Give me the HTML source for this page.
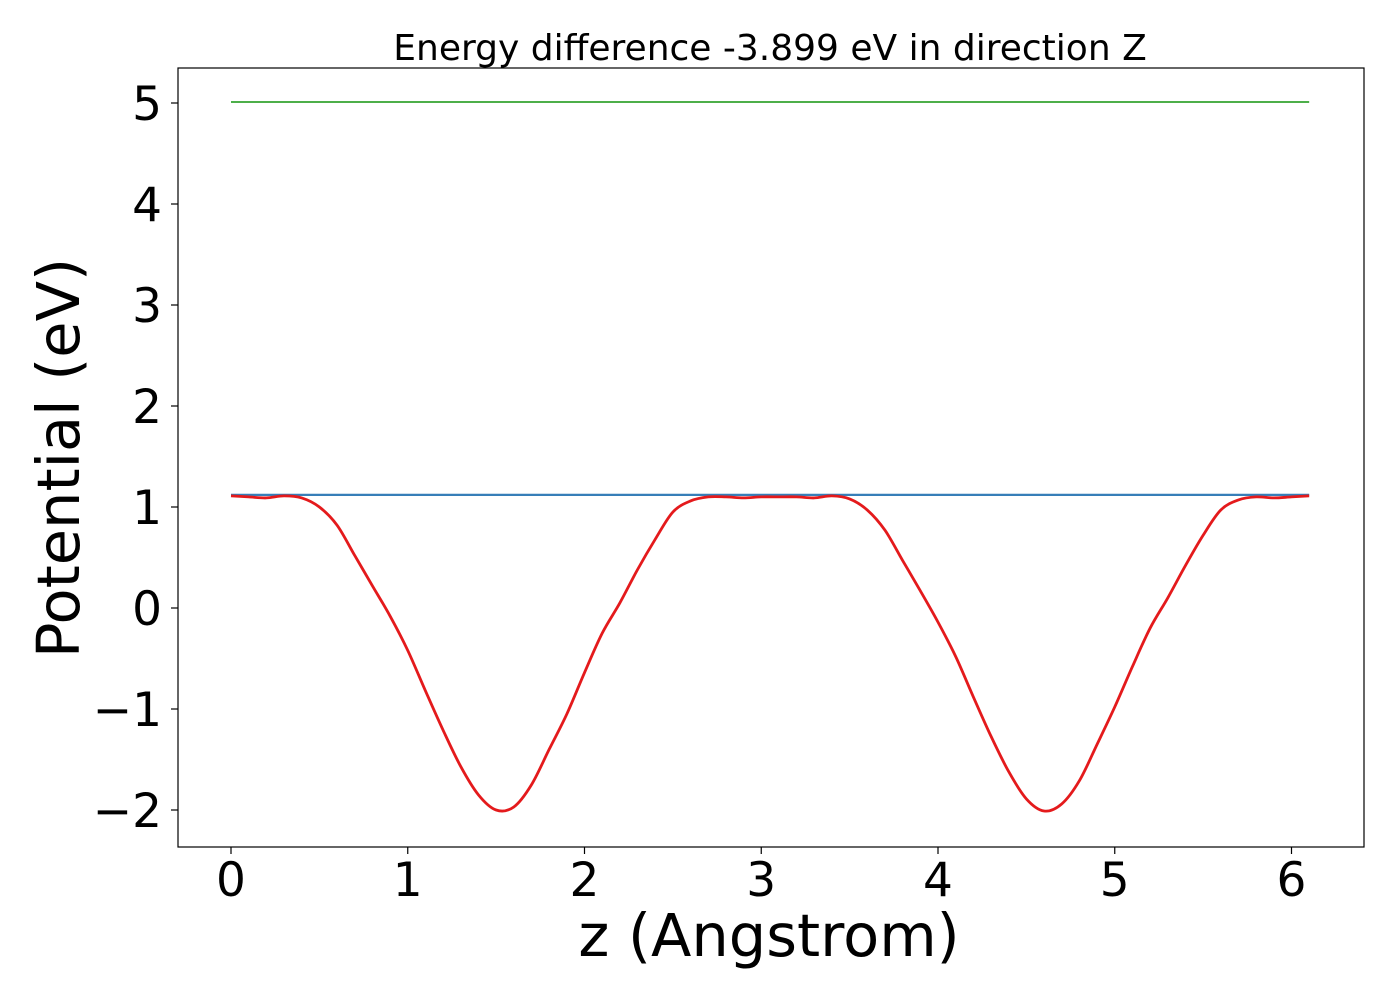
<!DOCTYPE html>
<html><head><meta charset="utf-8"><style>
body{margin:0;background:#fff;}
svg{display:block;font-family:"DejaVu Sans","Liberation Sans",sans-serif;}
</style></head><body>
<svg id="chart" width="1400" height="1000">
<text x="770" y="60" font-size="36" text-anchor="middle">Energy difference -3.899 eV in direction Z</text>
<g id="plot"></g>
<rect x="178" y="68" width="1186" height="779" fill="none" stroke="#000" stroke-width="1.2"/>
<text x="769" y="956" font-size="59" text-anchor="middle">z (Angstrom)</text>
<text transform="translate(79,458) rotate(-90)" font-size="59" text-anchor="middle">Potential (eV)</text>
</svg>
<script>
const xs = [0,0.1,0.2,0.3,0.4,0.5,0.6,0.7,0.8,0.9,1.0,1.1,1.2,1.3,1.4,1.5,1.6,1.7,1.8,1.9,2.0,2.1,2.2,2.3,2.4,2.5,2.6,2.7,2.8,2.9,3.0,3.1,3.2,3.3,3.4,3.5,3.6,3.7,3.8,3.9,4.0,4.1,4.2,4.3,4.4,4.5,4.6,4.7,4.8,4.9,5.0,5.1,5.2,5.3,5.4,5.5,5.6,5.7,5.8,5.9,6.0,6.1];
const potential = [1.11,1.10,1.09,1.11,1.09,1.00,0.82,0.52,0.22,-0.08,-0.42,-0.82,-1.21,-1.57,-1.85,-2.00,-1.97,-1.75,-1.40,-1.05,-0.64,-0.25,0.05,0.38,0.68,0.95,1.06,1.10,1.10,1.09,1.10,1.10,1.10,1.09,1.11,1.08,0.97,0.77,0.47,0.17,-0.14,-0.48,-0.88,-1.27,-1.62,-1.89,-2.01,-1.94,-1.71,-1.35,-0.98,-0.58,-0.20,0.10,0.42,0.72,0.97,1.07,1.10,1.09,1.10,1.11];
const avgLevel = [1.12];
const vacuumLevel = [5.01];
const xTicks = [0,1,2,3,4,5,6];
const yTicks = [-2,-1,0,1,2,3,4,5];

const NS='http://www.w3.org/2000/svg';
const X = v => 231 + v*176.75;
const Y = v => 608 - v*101;
const g = document.getElementById('plot');
function mk(t,a){const e=document.createElementNS(NS,t);for(const k in a)e.setAttribute(k,a[k]);g.appendChild(e);return e;}
const xmin=xs[0], xmax=xs[xs.length-1];
let l=mk('line',{x1:X(xmin),x2:X(xmax),y1:Y(vacuumLevel[0]),y2:Y(vacuumLevel[0]),stroke:'#4daf4a','stroke-width':2});


l=mk('line',{x1:X(xmin),x2:X(xmax),y1:Y(avgLevel[0]),y2:Y(avgLevel[0]),stroke:'#377eb8','stroke-width':2.2});


const pts=xs.map((x,i)=>[X(x),Y(potential[i])]);
let d='M'+pts[0][0]+','+pts[0][1];
for(let i=0;i<pts.length-1;i++){
  const p0=pts[Math.max(0,i-1)],p1=pts[i],p2=pts[i+1],p3=pts[Math.min(pts.length-1,i+2)];
  const c1x=p1[0]+(p2[0]-p0[0])/6,c1y=p1[1]+(p2[1]-p0[1])/6;
  const c2x=p2[0]-(p3[0]-p1[0])/6,c2y=p2[1]-(p3[1]-p1[1])/6;
  d+=' C'+c1x+','+c1y+' '+c2x+','+c2y+' '+p2[0]+','+p2[1];
}
let p=mk('path',{d:d,fill:'none',stroke:'#e41a1c','stroke-width':2.8,'stroke-linejoin':'round'});


xTicks.forEach(t=>{
  const tk=mk('line',{x1:X(t),x2:X(t),y1:847,y2:854,stroke:'#000','stroke-width':1.2});
  
  
  const tx=mk('text',{x:X(t),y:896,'font-size':47,'text-anchor':'middle'});
  tx.textContent=t;
  
  
});
yTicks.forEach(t=>{
  const tk=mk('line',{x1:171,x2:178,y1:Y(t),y2:Y(t),stroke:'#000','stroke-width':1.2});
  
  
  const tx=mk('text',{x:162,y:Y(t)+17,'font-size':47,'text-anchor':'end'});
  tx.textContent=t<0?'\u2212'+Math.abs(t):t;
  
  
});
</script>
</body></html>
